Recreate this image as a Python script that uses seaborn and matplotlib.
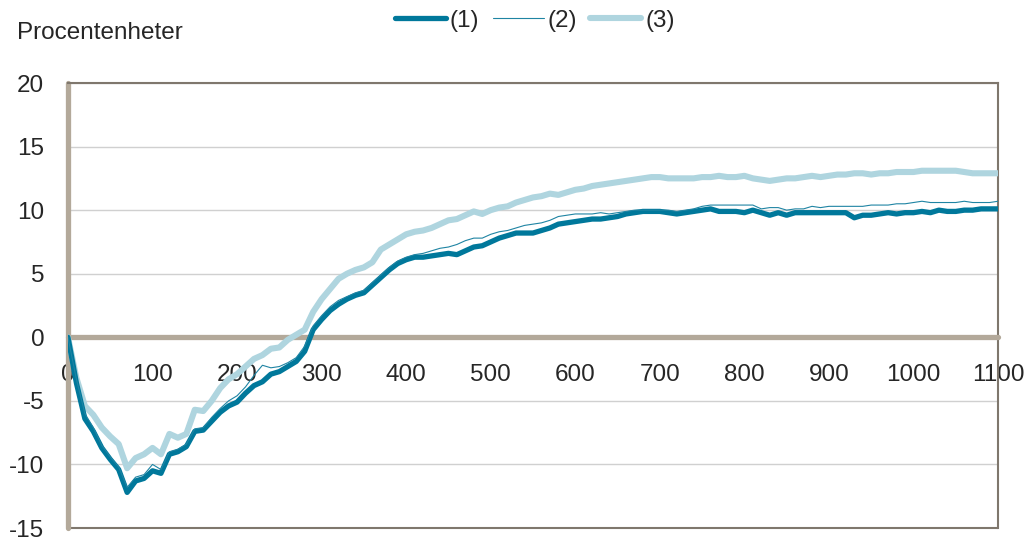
import matplotlib.pyplot as plt
import numpy as np
import pandas as pd
import seaborn as sns

# x-axel: 0, 10, ..., 1100
x_values = list(range(0, 1101, 10))

serie_1 = [0, -3.6, -6.4, -7.4, -8.7, -9.6, -10.4, -12.2, -11.3, -11.1,
           -10.5, -10.7, -9.2, -9.0, -8.6, -7.4, -7.3, -6.6, -5.9, -5.4,
           -5.1, -4.4, -3.8, -3.5, -2.9, -2.7, -2.3, -1.9, -1.1, 0.6,
           1.4, 2.1, 2.6, 3.0, 3.3, 3.5, 4.1, 4.7, 5.3, 5.8,
           6.1, 6.3, 6.3, 6.4, 6.5, 6.6, 6.5, 6.8, 7.1, 7.2,
           7.5, 7.8, 8.0, 8.2, 8.2, 8.2, 8.4, 8.6, 8.9, 9.0,
           9.1, 9.2, 9.3, 9.3, 9.4, 9.5, 9.7, 9.8, 9.9, 9.9,
           9.9, 9.8, 9.7, 9.8, 9.9, 10.0, 10.1, 9.9, 9.9, 9.9,
           9.8, 10.0, 9.8, 9.6, 9.8, 9.6, 9.8, 9.8, 9.8, 9.8,
           9.8, 9.8, 9.8, 9.4, 9.6, 9.6, 9.7, 9.8, 9.7, 9.8,
           9.8, 9.9, 9.8, 10.0, 9.9, 9.9, 10.0, 10.0, 10.1, 10.1,
           10.1]

serie_2 = [0, -3.3, -6.0, -7.1, -8.5, -9.4, -10.2, -11.8, -11.0, -10.8,
           -10.0, -10.4, -9.0, -8.8, -8.4, -7.2, -7.1, -6.3, -5.6, -5.0,
           -4.6, -3.9, -3.0, -2.2, -2.4, -2.3, -2.0, -1.6, -0.7, 0.9,
           1.7, 2.4, 2.9, 3.2, 3.5, 3.7, 4.3, 4.9, 5.5, 6.0,
           6.3, 6.5, 6.6, 6.8, 7.0, 7.1, 7.3, 7.6, 7.8, 7.8,
           8.1, 8.3, 8.4, 8.6, 8.8, 8.9, 9.0, 9.2, 9.5, 9.6,
           9.7, 9.7, 9.7, 9.8, 9.7, 9.8, 9.9, 10.0, 10.0, 10.0,
           10.0, 10.0, 9.9, 10.0, 10.1, 10.3, 10.4, 10.4, 10.4, 10.4,
           10.4, 10.4, 10.1, 10.2, 10.2, 10.0, 10.1, 10.1, 10.3, 10.2,
           10.3, 10.3, 10.3, 10.3, 10.3, 10.4, 10.4, 10.4, 10.5, 10.5,
           10.6, 10.7, 10.6, 10.6, 10.6, 10.6, 10.7, 10.6, 10.6, 10.6,
           10.7]

serie_3 = [0, -3.2, -5.4, -6.1, -7.1, -7.8, -8.4, -10.3, -9.5, -9.2,
           -8.7, -9.2, -7.6, -7.9, -7.6, -5.7, -5.8, -5.0, -4.0, -3.3,
           -2.9, -2.3, -1.7, -1.4, -0.9, -0.8, -0.2, 0.2, 0.6, 2.0,
           3.0, 3.8, 4.6, 5.0, 5.3, 5.5, 5.9, 6.9, 7.3, 7.7,
           8.1, 8.3, 8.4, 8.6, 8.9, 9.2, 9.3, 9.6, 9.9, 9.7,
           10.0, 10.2, 10.3, 10.6, 10.8, 11.0, 11.1, 11.3, 11.2, 11.4,
           11.6, 11.7, 11.9, 12.0, 12.1, 12.2, 12.3, 12.4, 12.5, 12.6,
           12.6, 12.5, 12.5, 12.5, 12.5, 12.6, 12.6, 12.7, 12.6, 12.6,
           12.7, 12.5, 12.4, 12.3, 12.4, 12.5, 12.5, 12.6, 12.7, 12.6,
           12.7, 12.8, 12.8, 12.9, 12.9, 12.8, 12.9, 12.9, 13.0, 13.0,
           13.0, 13.1, 13.1, 13.1, 13.1, 13.1, 13.0, 12.9, 12.9, 12.9,
           12.9]

serie_namn = ['(1)', '(2)', '(3)']
x_ticks = list(range(0, 1101, 100))
y_ticks = [-15, -10, -5, 0, 5, 10, 15, 20]

df = pd.DataFrame({'x': x_values * 3,
                   'varde': serie_1 + serie_2 + serie_3,
                   'serie': np.repeat(serie_namn, len(x_values))})

sns.set_style('white')
plt.rcParams['font.family'] = ['Liberation Sans', 'DejaVu Sans']
plt.rcParams['axes.unicode_minus'] = False

fig = plt.figure(figsize=(10.25, 5.39), dpi=100)
ax = fig.add_axes([0.0663, 0.0204, 0.9074, 0.8256])

farger = {'(1)': '#00789b', '(2)': '#1f84a3', '(3)': '#afd5df'}
bredd = {'(1)': 3.8, '(2)': 0.8, '(3)': 4.4}

# ritordning: (3) underst, sedan (1) och (2) överst
for namn in ['(3)', '(1)', '(2)']:
    sns.lineplot(data=df[df.serie == namn], x='x', y='varde',
                 color=farger[namn], linewidth=bredd[namn], label=namn,
                 ax=ax, zorder=3)

ax.set_xlim(0, 1100)
ax.set_ylim(-15, 20)
ax.set_xticks(x_ticks)
ax.set_yticks(y_ticks)
ax.set_xlabel('')
ax.set_ylabel('')

ax.yaxis.grid(True, color='#d0d0d0', linewidth=1)
ax.xaxis.grid(False)

# nollinjen som x-axel, vänsteraxeln tjock
taupe = '#b3a99a'
ram = '#7f776d'
ax.spines['bottom'].set_position(('data', 0))
ax.spines['bottom'].set_color(taupe)
ax.spines['bottom'].set_linewidth(3.8)
ax.spines['bottom'].set_capstyle('round')
ax.spines['bottom'].set_zorder(2.5)
ax.spines['left'].set_color(taupe)
ax.spines['left'].set_linewidth(3.8)
ax.spines['left'].set_capstyle('round')
ax.spines['top'].set_color(ram)
ax.spines['top'].set_linewidth(1.5)
ax.spines['right'].set_color(ram)
ax.spines['right'].set_linewidth(1.5)
ax.axhline(-15, color=ram, linewidth=1.5, clip_on=False, zorder=2)

ax.tick_params(axis='x', length=0, pad=19, labelsize=17.5)
ax.tick_params(axis='y', length=0, pad=17, labelsize=17.5)

handles, labels = ax.get_legend_handles_labels()
order = [labels.index(n) for n in serie_namn]
ax.legend([handles[i] for i in order], [labels[i] for i in order],
          loc='center', bbox_to_anchor=(0.502, 1.14), ncol=3, frameon=False,
          fontsize=17.5, handlelength=2.1, handletextpad=0.15,
          columnspacing=0.55)

fig.text(17 / 1025, 1 - 33 / 539, 'Procentenheter', fontsize=17.5,
         va='center', ha='left')

fig.savefig('out.png', dpi=100)
